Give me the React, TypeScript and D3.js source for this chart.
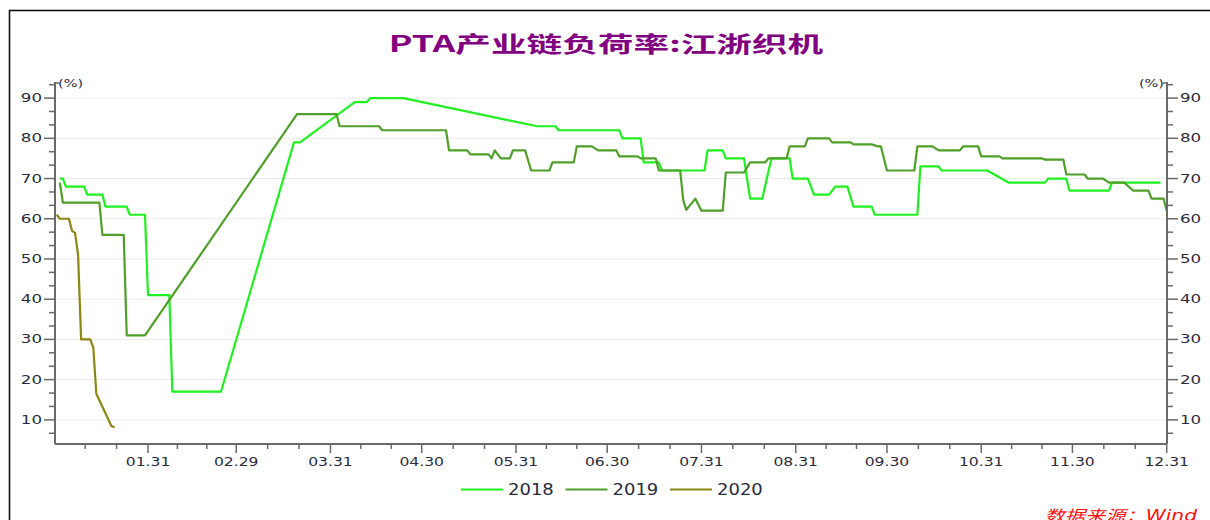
import * as d3 from "d3";

// 江浙织机负荷率 (%), dates laid on one calendar year
const series2018: [string, number][] = [
  ["01-02", 70], ["01-03", 70], ["01-04", 68], ["01-10", 68], ["01-11", 66],
  ["01-16", 66], ["01-17", 63], ["01-24", 63], ["01-25", 61], ["01-30", 61],
  ["01-31", 41], ["02-07", 41], ["02-08", 17], ["02-24", 17], ["03-19", 79],
  ["03-21", 79], ["04-08", 89], ["04-12", 89], ["04-13", 90], ["04-24", 90],
  ["06-07", 83], ["06-13", 83], ["06-14", 82], ["07-04", 82], ["07-05", 80],
  ["07-11", 80], ["07-12", 74], ["07-17", 74], ["07-18", 72], ["08-01", 72],
  ["08-02", 77], ["08-07", 77], ["08-08", 75], ["08-14", 75], ["08-16", 65],
  ["08-20", 65], ["08-23", 75], ["08-29", 75], ["08-30", 70], ["09-04", 70],
  ["09-06", 66], ["09-11", 66], ["09-13", 68], ["09-17", 68], ["09-19", 63],
  ["09-25", 63], ["09-26", 61], ["10-10", 61], ["10-11", 73], ["10-17", 73],
  ["10-18", 72], ["11-02", 72], ["11-09", 69], ["11-21", 69], ["11-22", 70],
  ["11-28", 70], ["11-29", 67], ["12-12", 67], ["12-13", 69], ["12-29", 69],
];

const series2019: [string, number][] = [
  ["01-02", 69], ["01-03", 64], ["01-15", 64], ["01-16", 56], ["01-23", 56],
  ["01-24", 31], ["01-30", 31], ["03-20", 86], ["04-02", 86], ["04-03", 83],
  ["04-16", 83], ["04-17", 82], ["05-08", 82], ["05-09", 77], ["05-15", 77],
  ["05-16", 76], ["05-22", 76], ["05-23", 75], ["05-24", 77], ["05-26", 75],
  ["05-29", 75], ["05-30", 77], ["06-03", 77], ["06-05", 72], ["06-11", 72],
  ["06-12", 74], ["06-19", 74], ["06-20", 78], ["06-25", 78], ["06-27", 77],
  ["07-03", 77], ["07-04", 75.5], ["07-10", 75.5], ["07-11", 75], ["07-16", 75],
  ["07-17", 72], ["07-24", 72], ["07-25", 64.7], ["07-26", 62.2], ["07-29", 65],
  ["07-31", 62], ["08-07", 62], ["08-08", 71.5], ["08-14", 71.5], ["08-16", 74],
  ["08-21", 74], ["08-22", 75], ["08-28", 75], ["08-29", 78], ["09-03", 78],
  ["09-04", 80], ["09-11", 80], ["09-12", 79], ["09-18", 79], ["09-19", 78.5],
  ["09-25", 78.5], ["09-27", 78], ["09-28", 78], ["09-30", 72], ["10-09", 72],
  ["10-10", 78], ["10-15", 78], ["10-17", 77], ["10-24", 77], ["10-25", 78],
  ["10-30", 78], ["10-31", 75.5], ["11-06", 75.5], ["11-07", 75], ["11-20", 75],
  ["11-21", 74.7], ["11-27", 74.7], ["11-28", 71], ["12-04", 71], ["12-05", 70],
  ["12-10", 70], ["12-12", 69], ["12-17", 69], ["12-20", 67], ["12-25", 67],
  ["12-26", 65], ["12-30", 65], ["12-31", 62],
];

const series2020: [string, number][] = [
  ["01-01", 61], ["01-02", 60], ["01-05", 60], ["01-06", 57], ["01-07", 56.5],
  ["01-08", 51], ["01-09", 30], ["01-12", 30], ["01-13", 28], ["01-14", 16.5],
  ["01-19", 8.4], ["01-20", 8.2],
];

const seriesNames = ["2018", "2019", "2020"];
const seriesColors = ["#1ff01f", "#4f9f2a", "#8c8612"];
const yTicks = [10, 20, 30, 40, 50, 60, 70, 80, 90];

const title = "PTA产业链负荷率:江浙织机";
const source = "数据来源：Wind";

const W = 1210;
const H = 520;
const left = 55;
const right = 1167;
const top = 82;
const bottom = 444;
const SX = 1.45; // the picture's text is drawn wide
const font = "'DejaVu Sans', Verdana, 'Noto Sans CJK SC', sans-serif";
const textColor = "#2a2a3a";
const axisColor = "#6a6a6a";

const parse = d3.timeParse("%Y-%m-%d");
const toPoints = (s: [string, number][]) =>
  s.map(([md, v]) => [parse("2020-" + md) as Date, v] as [Date, number]);

export default function App() {
  const x = d3
    .scaleTime()
    .domain([new Date(2020, 0, 1), new Date(2020, 11, 31)])
    .range([56.8, 1166.7]);
  const y = d3.scaleLinear().domain([4, 94]).range([bottom, top]);

  const line = d3
    .line<[Date, number]>()
    .x((d) => x(d[0]))
    .y((d) => y(d[1]));

  const allSeries = [series2018, series2019, series2020].map(toPoints);

  // month-end ticks, with two minor ticks in between
  const monthEnds = d3.range(0, 13).map((m) => new Date(2020, m, 0));
  const majorX = monthEnds.slice(1);
  const minorX: Date[] = [];
  for (let i = 0; i < 12; i++) {
    const a = monthEnds[i].getTime();
    const b = monthEnds[i + 1].getTime();
    minorX.push(new Date(a + (b - a) / 3), new Date(a + (2 * (b - a)) / 3));
  }
  const fmt = d3.timeFormat("%m.%d");
  const minorY = d3
    .range(2, 29)
    .filter((k) => k % 3 !== 0)
    .map((k) => (k * 10) / 3);

  return (
    <svg
      width={W}
      height={H}
      style={{ position: "absolute", left: 0, top: 0, background: "#fff" }}
    >
      <rect x={9.5} y={10.5} width={W + 10} height={H + 10} fill="#fff" stroke="#111" strokeWidth={1.6} />

      <g transform={`translate(606,52) scale(1.62,1)`}>
        <text
          textAnchor="middle"
          fontFamily="'Noto Sans CJK SC', sans-serif"
          fontWeight="bold"
          fontSize={22}
          fill="#800080"
        >
          {title}
        </text>
      </g>

      {/* grid */}
      {yTicks.map((t) => (
        <line key={"g" + t} x1={left} x2={right} y1={y(t)} y2={y(t)} stroke="#ebebeb" strokeWidth={1} />
      ))}

      {/* series */}
      {allSeries.map((pts, i) => (
        <path
          key={seriesNames[i]}
          d={line(pts) || ""}
          fill="none"
          stroke={seriesColors[i]}
          strokeWidth={2.2}
          strokeLinejoin="round"
        />
      ))}

      {/* left & right axes */}
      {[left, right].map((ax, side) => {
        const dir = side === 0 ? -1 : 1;
        return (
          <g key={"ax" + side}>
            <line x1={ax} x2={ax} y1={top} y2={bottom} stroke={axisColor} strokeWidth={2} />
            <line x1={ax} x2={ax - dir * 4} y1={top + 1} y2={top + 1} stroke={axisColor} strokeWidth={1.5} />
            {yTicks.map((t) => (
              <g key={t}>
                <line x1={ax} x2={ax + dir * 11} y1={y(t)} y2={y(t)} stroke={axisColor} strokeWidth={1.5} />
                <g transform={`translate(${ax + dir * 13},${y(t) + 4}) scale(${SX},1)`}>
                  <text textAnchor={side === 0 ? "end" : "start"} fontFamily={font} fontSize={11.5} fill={textColor}>
                    {t}
                  </text>
                </g>
              </g>
            ))}
            {minorY.map((t) => (
              <line key={"m" + t} x1={ax} x2={ax + dir * 6} y1={y(t)} y2={y(t)} stroke={axisColor} strokeWidth={1.5} />
            ))}
            <g transform={`translate(${side === 0 ? ax + 3 : ax - 3},${top + 5}) scale(${SX},1)`}>
              <text textAnchor={side === 0 ? "start" : "end"} fontFamily={font} fontSize={10} fill={textColor}>
                (%)
              </text>
            </g>
          </g>
        );
      })}

      {/* x axis */}
      <line x1={left} x2={right} y1={bottom} y2={bottom} stroke={axisColor} strokeWidth={2} />
      {minorX.map((d, i) => (
        <line key={"mx" + i} x1={x(d)} x2={x(d)} y1={bottom} y2={bottom + 5} stroke={axisColor} strokeWidth={1.5} />
      ))}
      {majorX.map((d, i) => (
        <g key={"x" + i}>
          <line x1={x(d)} x2={x(d)} y1={bottom} y2={bottom + 9} stroke={axisColor} strokeWidth={1.5} />
          <g transform={`translate(${x(d)},466) scale(1.3,1)`}>
            <text textAnchor="middle" fontFamily={font} fontSize={12} fill={textColor}>
              {fmt(d)}
            </text>
          </g>
        </g>
      ))}

      {/* legend */}
      {seriesNames.map((n, i) => (
        <g key={"lg" + n} transform={`translate(${461 + i * 104.5},489.5)`}>
          <line x1={0} x2={42} y1={0} y2={0} stroke={seriesColors[i]} strokeWidth={2} />
          <g transform={`translate(47,5.5) scale(1.2,1)`}>
            <text fontFamily={font} fontSize={15} fill={textColor}>
              {n}
            </text>
          </g>
        </g>
      ))}

      <g transform={`translate(1197,521) scale(1.35,1)`}>
        <text textAnchor="end" fontFamily={font} fontStyle="italic" fontSize={15} fill="#ff1010">
          {source}
        </text>
      </g>
    </svg>
  );
}
